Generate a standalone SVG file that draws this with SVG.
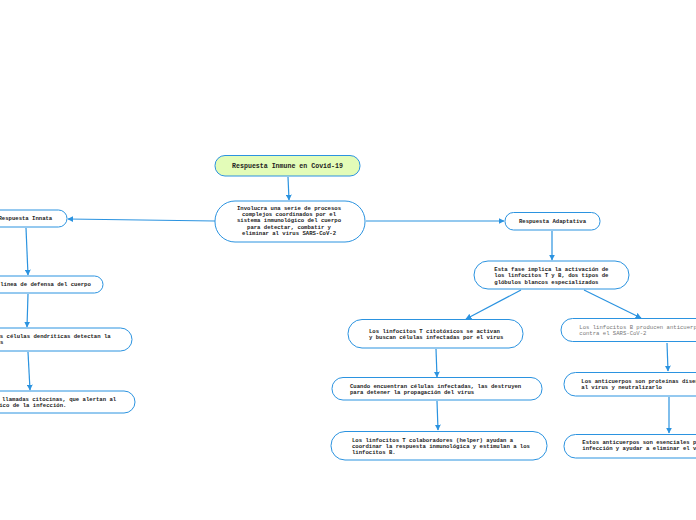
<svg xmlns="http://www.w3.org/2000/svg" width="696" height="520" viewBox="0 0 696 520">
<style>
.box{fill:#fff;stroke:#2b93e0;stroke-width:1}
.root{fill:#e3fcb8;stroke:#2b93e0;stroke-width:1}
text{font-family:"Liberation Mono","DejaVu Sans Mono",monospace;font-size:5.6px;font-weight:bold;fill:#222}
.c{text-anchor:middle}
.g{font-weight:normal;fill:#777}
.r{font-size:6.6px}
.conn{stroke:#2b93e0;stroke-width:1.2;fill:none;marker-end:url(#ah)}
</style>
<defs>
<marker id="ah" viewBox="0 0 10 10" refX="9" refY="5" markerWidth="6" markerHeight="6" markerUnits="userSpaceOnUse" orient="auto">
<path d="M0,0 L10,5 L0,10 z" fill="#2b93e0"/>
</marker>
</defs>
<rect width="696" height="520" fill="#fff"/>
<g id="connectors">
<line class="conn" x1="288" y1="177" x2="289" y2="200"/>
<line class="conn" x1="215" y1="221" x2="68" y2="219"/>
<line class="conn" x1="26" y1="228" x2="28" y2="275"/>
<line class="conn" x1="28" y1="294" x2="27" y2="327"/>
<line class="conn" x1="28" y1="352" x2="30" y2="390"/>
<line class="conn" x1="366" y1="221" x2="504" y2="221"/>
<line class="conn" x1="552" y1="231" x2="552" y2="260"/>
<line class="conn" x1="521" y1="290" x2="466" y2="319"/>
<line class="conn" x1="584" y1="290" x2="641" y2="318"/>
<line class="conn" x1="436" y1="349" x2="437" y2="377"/>
<line class="conn" x1="437" y1="401" x2="438" y2="430"/>
<line class="conn" x1="667" y1="343" x2="668" y2="371"/>
<line class="conn" x1="669" y1="397" x2="669" y2="433"/>
</g>
<g id="root">
<rect class="root" x="215" y="155.5" width="145" height="20.5" rx="10"/>
<text class="c r" x="287.5" y="168">Respuesta Inmune en Covid-19</text>
</g>
<g id="main">
<rect class="box" x="215" y="201" width="150" height="41" rx="20"/>
<text class="c" x="289" y="210">Involucra una serie de procesos</text>
<text class="c" x="289" y="216.2">complejos coordinados por el</text>
<text class="c" x="289" y="222.4">sistema inmunológico del cuerpo</text>
<text class="c" x="289" y="228.6">para detectar, combatir y</text>
<text class="c" x="289" y="234.8">eliminar al virus SARS-CoV-2</text>
</g>
<g id="innata">
<rect class="box" x="-14" y="210" width="81" height="17" rx="8.5"/>
<text x="-1.5" y="220.3">Respuesta Innata</text>
</g>
<g id="innata1">
<rect class="box" x="-20" y="276" width="123" height="17" rx="8.5"/>
<text x="0.2" y="286.3">línea de defensa del cuerpo</text>
</g>
<g id="innata2">
<rect class="box" x="-20" y="328" width="152" height="23" rx="11.5"/>
<text x="-3.5" y="337.8">as células dendríticas detectan la</text>
<text x="-13.5" y="344">virus</text>
</g>
<g id="innata3">
<rect class="box" x="-20" y="391" width="155" height="22" rx="11"/>
<text x="2" y="400.8">llamadas citocinas, que alertan al</text>
<text x="-0.8" y="407">ico de la infección.</text>
</g>
<g id="adaptativa">
<rect class="box" x="505" y="212.5" width="95" height="17.5" rx="8.5"/>
<text class="c" x="552.5" y="223">Respuesta Adaptativa</text>
</g>
<g id="fase">
<rect class="box" x="474" y="261" width="155" height="28" rx="14"/>
<text x="494.3" y="271.2">Esta fase implica la activación de</text>
<text x="494.3" y="277.4">los linfocitos T y B, dos tipos de</text>
<text x="494.3" y="283.6">glóbulos blancos especializados</text>
</g>
<g id="t1">
<rect class="box" x="348" y="319.5" width="175" height="28.5" rx="14"/>
<text x="369" y="332.5">Los linfocitos T citotóxicos se activan</text>
<text x="369" y="338.5">y buscan células infectadas por el virus</text>
</g>
<g id="t2">
<rect class="box" x="332" y="377.5" width="210" height="22.5" rx="11"/>
<text x="350" y="388.2">Cuando encuentran células infectadas, las destruyen</text>
<text x="350" y="394.2">para detener la propagación del virus</text>
</g>
<g id="t3">
<rect class="box" x="331" y="431.5" width="216" height="28.5" rx="14"/>
<text x="352" y="441.6">Los linfocitos T colaboradores (helper) ayudan a</text>
<text x="352" y="447.6">coordinar la respuesta inmunológica y estimulan a los</text>
<text x="352" y="453.6">linfocitos B.</text>
</g>
<g id="b1">
<rect class="box" x="561" y="318.5" width="160" height="23" rx="11.5"/>
<text class="g" x="579.3" y="328.6">Los linfocitos B producen anticuerpos</text>
<text class="g" x="579.3" y="334.8">contra el SARS-CoV-2</text>
</g>
<g id="b2">
<rect class="box" x="564" y="372.5" width="160" height="23.5" rx="11.5"/>
<text x="581.3" y="382.9">Los anticuerpos son proteínas diseñadas</text>
<text x="581.3" y="389">al virus y neutralizarlo</text>
</g>
<g id="b3">
<rect class="box" x="564" y="434.5" width="160" height="23.5" rx="11.5"/>
<text x="582.3" y="444.2">Estos anticuerpos son esenciales para</text>
<text x="582.3" y="450.2">infección y ayudar a eliminar el virus</text>
</g>
</svg>
